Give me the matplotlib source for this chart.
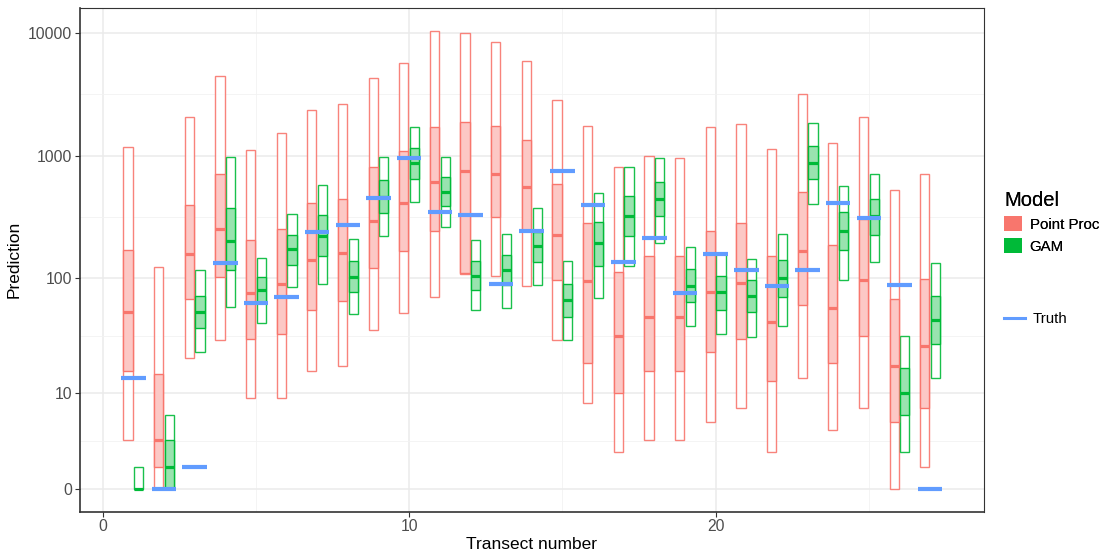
import numpy as np
import matplotlib
matplotlib.use("Agg")
import matplotlib.pyplot as plt
from matplotlib.patches import Patch
from matplotlib.lines import Line2D

plt.rcParams['font.family'] = ['Liberation Sans', 'DejaVu Sans']

# ---- data -------------------------------------------------------------
transect = np.arange(1, 28)

# Point process model: 95% / 50% intervals and median
pp_lo95 = [3, 0, 21, 30, 9, 9, 16, 18, 37, 51, 70, 108, 105, 86, 30, 8, 2, 3, 3, 5, 7, 2, 14, 4, 7, 0, 1]
pp_lo50 = [16, 1, 67, 102, 31, 34, 55, 65, 121, 169, 245, 111, 317, 250, 97, 19, 10, 16, 16, 24, 31, 13, 60, 19, 33, 5, 7]
pp_med = [52, 3, 158, 254, 76, 89, 142, 163, 296, 412, 614, 759, 717, 559, 228, 95, 33, 48, 48, 77, 91, 43, 169, 57, 97, 18, 27]
pp_hi50 = [171, 15, 397, 709, 206, 253, 412, 447, 806, 1091, 1709, 1897, 1761, 1340, 592, 286, 112, 153, 154, 246, 283, 152, 506, 187, 305, 67, 98]
pp_hi95 = [1189, 124, 2071, 4454, 1118, 1527, 2360, 2640, 4290, 5678, 10380, 9942, 8404, 5894, 2830, 1761, 809, 999, 962, 1709, 1827, 1139, 3182, 1267, 2059, 526, 709]

# GAM: 95% / 50% intervals and median
gam_lo95 = [0, 0, 24, 58, 42, 84, 89, 50, 222, 420, 264, 54, 57, 88, 30, 69, 126, 197, 40, 34, 32, 40, 407, 97, 136, 2, 14]
gam_lo50 = [0, 0, 38, 117, 62, 129, 153, 77, 345, 650, 394, 80, 88, 136, 48, 127, 223, 323, 64, 55, 52, 70, 646, 171, 227, 6, 28]
gam_med = [0, 1, 52, 204, 80, 173, 223, 103, 464, 872, 512, 105, 117, 184, 66, 194, 326, 447, 87, 77, 71, 101, 881, 245, 325, 10, 45]
gam_hi50 = [0, 3, 71, 377, 103, 227, 331, 139, 634, 1154, 671, 140, 155, 242, 90, 288, 475, 614, 119, 105, 97, 142, 1198, 352, 447, 17, 71]
gam_hi95 = [1, 6, 117, 986, 147, 337, 581, 212, 980, 1728, 980, 207, 230, 377, 140, 500, 809, 968, 181, 161, 145, 230, 1841, 570, 709, 33, 134]

truth = [14, 0, 1, 133, 62, 70, 240, 273, 458, 968, 348, 333, 89, 245, 750, 399, 137, 215, 75, 160, 118, 86, 117, 412, 313, 88, 0]

model_labels = ["Point Proc", "GAM"]
y_breaks = [0, 10, 100, 1000, 10000]
x_breaks = [0, 10, 20]


# ---- log(y + 2) axis ---------------------------------------------------
def fwd(y):
    y = np.asarray(y, dtype=float)
    return np.log10(np.maximum(y + 2.0, 1e-9))


def inv(t):
    return 10.0 ** np.asarray(t, dtype=float) - 2.0


RED, RED_FILL = '#F8766D', '#FCC8C5'
GREEN, GREEN_FILL = '#00BA38', '#99E3AF'
BLUE = '#619CFF'

W, H = 1104, 554
fig = plt.figure(figsize=(W / 100, H / 100), dpi=100)
ax = fig.add_axes([80 / W, 1 - 511.5 / H, (983.5 - 80) / W, (511.5 - 8) / H])
ax.set_yscale('function', functions=(fwd, inv))
ax.set_xlim(-0.74, 28.74)
ax.set_ylim(float(inv(0.1186)), float(inv(4.200)))

width = 0.30
offset = 0.175
models = [
    (-offset, pp_lo95, pp_lo50, pp_med, pp_hi50, pp_hi95, RED, RED_FILL),
    (+offset, gam_lo95, gam_lo50, gam_med, gam_hi50, gam_hi95, GREEN, GREEN_FILL),
]
for off, lo95, lo50, med, hi50, hi95, edge, fill in models:
    x = transect + off
    lo95, lo50, med, hi50, hi95 = map(np.asarray, (lo95, lo50, med, hi50, hi95))
    ax.bar(x, hi95 - lo95, bottom=lo95, width=width, facecolor='white',
           edgecolor=edge, linewidth=1.0, alpha=0.9, zorder=3)
    ax.bar(x, hi50 - lo50, bottom=lo50, width=width, facecolor=fill,
           edgecolor=edge, linewidth=1.0, zorder=4)
    ax.hlines(med, x - width / 2, x + width / 2, color=edge, linewidth=2.3,
              zorder=5)

ax.hlines(truth, transect - 0.4, transect + 0.4, color=BLUE, linewidth=3.0,
          zorder=6)

# ---- axes styling ------------------------------------------------------
ax.set_xticks(x_breaks)
ax.set_xticks([5, 15, 25], minor=True)
ax.set_yticks(y_breaks)
ax.set_yticklabels([str(b) for b in y_breaks])
tb = fwd(y_breaks)
ax.set_yticks(inv((tb[:-1] + tb[1:]) / 2), minor=True)
ax.yaxis.set_minor_formatter(plt.NullFormatter())

ax.grid(True, which='major', color='#EBEBEB', linewidth=1.1, zorder=0)
ax.grid(True, which='minor', color='#F2F2F2', linewidth=0.6, zorder=0)
ax.set_axisbelow(True)
ax.tick_params(which='major', direction='out', length=3.5, width=0.8,
               color='#333333', labelcolor='#4D4D4D', labelsize=11.3, pad=2)
ax.tick_params(which='minor', length=0)
for side, sp in ax.spines.items():
    sp.set_color('#333333')
    sp.set_linewidth(1.2 if side in ('left', 'bottom') else 0.8)

ax.set_xlabel('Transect number', fontsize=12.5, labelpad=2)
ax.set_ylabel('Prediction', fontsize=12.5, labelpad=5)

# ---- legends -----------------------------------------------------------
model_handles = [Patch(facecolor=RED, edgecolor='none'),
                 Patch(facecolor=GREEN, edgecolor='none')]
leg1 = fig.legend(model_handles, model_labels, title='Model',
                  loc='upper left', bbox_to_anchor=(998 / W, 1 - 185 / H),
                  frameon=False, fontsize=10.8, title_fontsize=14.5,
                  handlelength=1.2, handleheight=1.2, handletextpad=0.5,
                  labelspacing=0.4, alignment='left', borderaxespad=0)
truth_handle = [Line2D([0], [0], color=BLUE, linewidth=2.2)]
leg2 = fig.legend(truth_handle, ['Truth'], loc='upper left',
                  bbox_to_anchor=(998 / W, 1 - 306 / H), frameon=False,
                  fontsize=10.8, handlelength=1.4, handletextpad=0.5,
                  borderaxespad=0)
fig.add_artist(leg1)

fig.savefig('out.png', dpi=100)
